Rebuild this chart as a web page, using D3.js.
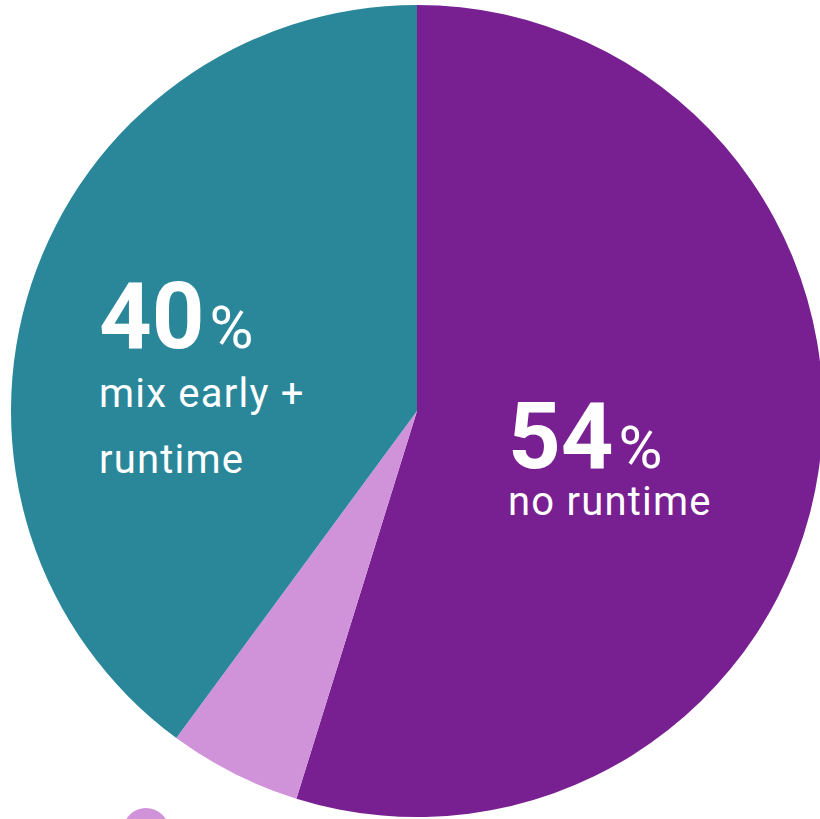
<!DOCTYPE html>
<html>
<head>
<meta charset="utf-8">
<script src="https://cdn.jsdelivr.net/npm/d3@7"></script>
<style>
  html, body { margin: 0; padding: 0; background: #fff; overflow: hidden; }
  text { font-family: Roboto, "Noto Sans", sans-serif; fill: #fff; }
</style>
</head>
<body>
<div id="chart"></div>
<script>
// Slice data (clockwise from 12 o'clock)
const categories = ['no runtime', 'early only', 'mix early + runtime'];
const shares = [54.8, 5.3, 39.9];
const shownPct = ['54', '', '40'];
const labelLines = [['no runtime'], [], ['mix early +', 'runtime']];
const colors = ['#781f91', '#d093d9', '#2a879a'];

const width = 820;
const height = 819;
const cx = 417, cy = 411, radius = 406;

const svg = d3.select('#chart')
    .append('svg')
    .attr('width', width)
    .attr('height', height);

const g = svg.append('g')
    .attr('transform', `translate(${cx},${cy})`);

const pie = d3.pie()
    .sort(null)
    .value(d => d)
    .startAngle(0)
    .endAngle(2 * Math.PI);

const arc = d3.arc()
    .innerRadius(0)
    .outerRadius(radius);

const arcs = pie(shares);

g.selectAll('path')
    .data(arcs)
    .enter()
    .append('path')
    .attr('d', arc)
    .attr('fill', (d, i) => colors[i]);

// Label anchors (baseline of the big number), offset from the pie centre,
// plus the gap down to the first caption line
const labelOffsets = [[91, 57, 47], null, [-318, -63, 59]];

arcs.forEach((d, i) => {
    if (!shownPct[i]) return;
    const [ox, oy, gap] = labelOffsets[i];
    const t = g.append('text')
        .attr('x', ox)
        .attr('y', oy);
    t.append('tspan')
        .attr('font-size', 92)
        .attr('font-weight', 'bold')
        .text(shownPct[i]);
    t.append('tspan')
        .attr('font-size', 60)
        .attr('dx', 5)
        .text('%');
    labelLines[i].forEach((l, j) => {
        t.append('tspan')
            .attr('x', ox)
            .attr('y', oy + gap + j * 66)
            .attr('font-size', 40)
            .attr('letter-spacing', 1.2)
            .text(l);
    });
});

// Legend swatch, mostly below the visible area
svg.append('circle')
    .attr('cx', 146)
    .attr('cy', 831)
    .attr('r', 23)
    .attr('fill', colors[1]);
</script>
</body>
</html>
